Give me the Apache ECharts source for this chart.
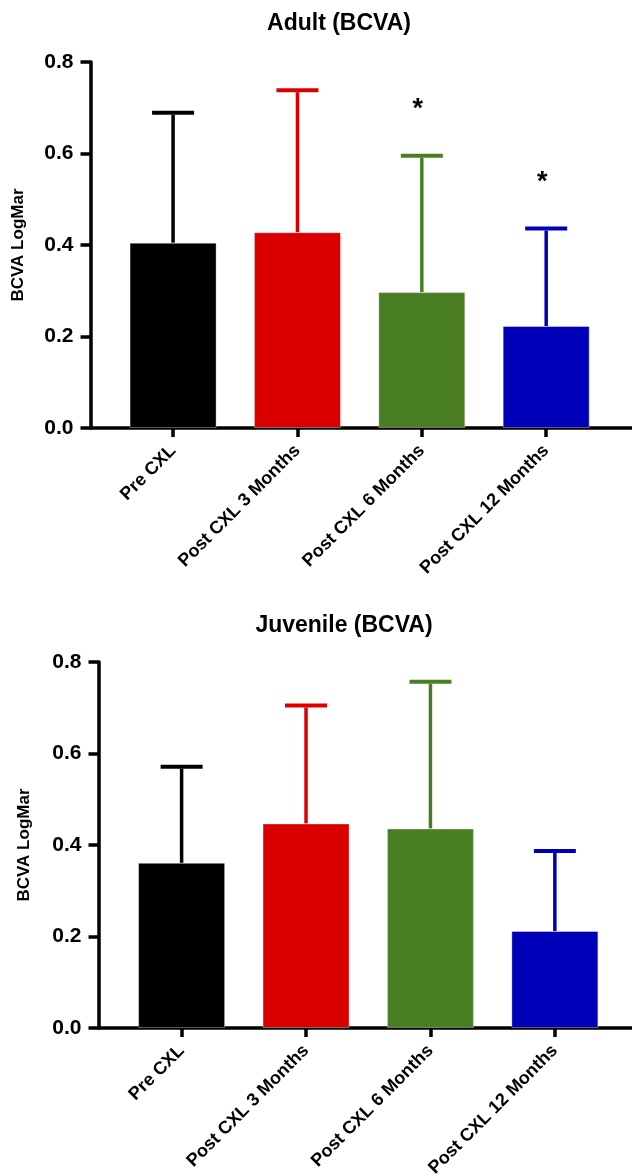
<!DOCTYPE html>
<html>
<head>
<meta charset="utf-8">
<script src="https://cdn.jsdelivr.net/npm/echarts@6/dist/echarts.min.js"></script>
<style>
html,body{margin:0;padding:0;background:#fff;}
#c{width:632px;height:1176px;}
</style>
</head>
<body>
<div id="c"></div>
<script>
// ---- data ----
const categories = ['Pre CXL', 'Post CXL 3 Months', 'Post CXL 6 Months', 'Post CXL 12 Months'];
const yTicks = [0, 0.2, 0.4, 0.6, 0.8];
const adultMean = [0.405, 0.428, 0.297, 0.223];
const adultSD   = [0.284, 0.310, 0.298, 0.213];
const adultSig  = ['', '', '*', '*'];
const juvMean   = [0.361, 0.447, 0.436, 0.212];
const juvSD     = [0.210, 0.258, 0.321, 0.175];
const juvSig    = ['', '', '', ''];
const titles    = ['Adult (BCVA)', 'Juvenile (BCVA)'];
const yName     = 'BCVA LogMar';

const colors = ['#000000', '#DB0000', '#4A7E22', '#0000B8'];
const FONT = '"Liberation Sans", Arial, Helvetica, sans-serif';

const chart = echarts.init(document.getElementById('c'), null, {renderer: 'canvas'});

function xAxisCfg(gridIndex, min, max) {
  return {
    type: 'value', gridIndex, min, max,
    axisLine: {show: true, onZero: false, lineStyle: {color: '#000', width: 3.5}},
    axisTick: {show: true, length: 9, lineStyle: {color: '#000', width: 3.5}, customValues: [0, 1, 2, 3]},
    axisLabel: {
      customValues: [0, 1, 2, 3],
      rotate: 45, margin: 20,
      formatter: v => categories[Math.round(v)] || '',
      color: '#000', fontWeight: 'bold', fontSize: 18, fontFamily: FONT
    },
    splitLine: {show: false}
  };
}
function yAxisCfg(gridIndex, gap) {
  return {
    type: 'value', gridIndex, min: yTicks[0], max: yTicks[yTicks.length - 1], interval: 0.2,
    axisLine: {show: true, onZero: false, lineStyle: {color: '#000', width: 3.5}},
    axisTick: {show: true, length: 10, lineStyle: {color: '#000', width: 3.5}},
    axisLabel: {formatter: v => v.toFixed(1), color: '#000', fontWeight: 'bold', fontSize: 21, fontFamily: FONT, margin: 17},
    splitLine: {show: false},
    name: yName, nameLocation: 'middle', nameGap: gap,
    nameTextStyle: {color: '#000', fontWeight: 'bold', fontSize: 17, fontFamily: FONT}
  };
}
function barSeries(idx, mean) {
  return {
    type: 'bar', xAxisIndex: idx, yAxisIndex: idx, barWidth: 87,
    data: mean.map((m, i) => ({value: [i, m], itemStyle: {color: colors[i]}})),
    itemStyle: {borderColor: 'rgba(255,255,255,0.35)', borderWidth: 1},
    silent: true, animation: false
  };
}
function errSeries(idx, mean, sd, sig) {
  return {
    type: 'custom', xAxisIndex: idx, yAxisIndex: idx, animation: false, silent: true,
    data: mean.map((m, i) => [i, m, m + sd[i]]),
    renderItem: (params, api) => {
      const i = api.value(0);
      const base = api.coord([i, api.value(1)]);
      const top = api.coord([i, api.value(2)]);
      const col = colors[i];
      const children = [
        {type: 'line', shape: {x1: base[0], y1: base[1], x2: top[0], y2: top[1] + 2}, style: {stroke: col, lineWidth: 3.5}},
        {type: 'line', shape: {x1: top[0] - 21, y1: top[1], x2: top[0] + 21, y2: top[1]}, style: {stroke: col, lineWidth: 4}}
      ];
      if (sig[i]) {
        children.push({type: 'text', x: top[0] - 4, y: top[1] - 46,
          style: {text: sig[i], fill: '#000', font: 'bold 27px ' + FONT, textAlign: 'center', textVerticalAlign: 'middle'}});
      }
      return {type: 'group', children};
    }
  };
}

chart.setOption({
  backgroundColor: '#fff',
  animation: false,
  grid: [
    {left: 90.5, top: 62, height: 366, right: 0, containLabel: false, outerBoundsMode: 'none'},
    {left: 98.5, top: 662, height: 366, right: 0, containLabel: false, outerBoundsMode: 'none'}
  ],
  xAxis: [xAxisCfg(0, -0.664, 3.69), xAxisCfg(1, -0.668, 3.62)],
  yAxis: [yAxisCfg(0, 64), yAxisCfg(1, 66)],
  graphic: [
    {type: 'text', x: 339, y: 24, style: {text: titles[0], fill: '#000', font: 'bold 23px ' + FONT, textAlign: 'center', textVerticalAlign: 'middle'}},
    {type: 'text', x: 344, y: 626, style: {text: titles[1], fill: '#000', font: 'bold 23px ' + FONT, textAlign: 'center', textVerticalAlign: 'middle'}}
  ],
  series: [
    barSeries(0, adultMean), errSeries(0, adultMean, adultSD, adultSig),
    barSeries(1, juvMean), errSeries(1, juvMean, juvSD, juvSig)
  ]
});
</script>
</body>
</html>
